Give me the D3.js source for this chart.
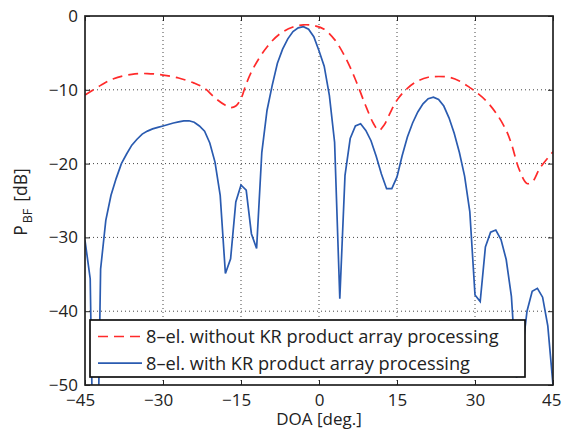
<!DOCTYPE html>
<html>
<head>
<meta charset="utf-8">
<script src="https://cdn.jsdelivr.net/npm/d3@7"></script>
<style>
  html, body { margin: 0; padding: 0; background: #fff; }
  svg { display: block; font-family: "Open Sans", "Noto Sans", sans-serif; }
  .grid line { stroke: #444; stroke-width: 1; stroke-dasharray: 1 3; }
</style>
</head>
<body>
<svg id="chart" width="562" height="431"></svg>
<script>
  // DOA in degrees, beamformer power in dB
  const xTicks = [-45, -30, -15, 0, 15, 30, 45];
  const yTicks = [0, -10, -20, -30, -40, -50];

  const withoutKR = [
    [-45, -10.7], [-42, -9.4], [-39.5, -8.5], [-36, -7.9], [-33, -7.8], [-30, -8.0],
    [-27, -8.4], [-24, -9.1], [-22, -9.8], [-20, -11.1], [-18, -12.1], [-17, -12.4],
    [-16, -12.2], [-15, -11.2], [-14, -9.2], [-12.5, -6.9], [-10, -4.2], [-7.5, -2.4],
    [-5, -1.5], [-3, -1.2], [-1, -1.3], [1, -1.8], [3, -3.2], [5, -5.5], [7, -8.6],
    [9, -12.2], [10.5, -14.6], [11.5, -15.5], [12.5, -14.8], [13.5, -13.4], [15, -11.4],
    [17, -9.8], [19, -8.8], [21, -8.3], [23, -8.2], [25, -8.3], [27, -8.8], [29, -9.7],
    [30, -10.2], [32, -11.4], [34, -13.1], [36, -15.5], [37, -17.3], [38.5, -20.8],
    [40, -22.7], [41, -22.5], [42.5, -20.6], [45, -18.4]
  ];

  const withKR = [
    [-45, -30.4], [-44, -35.6], [-43, -80], [-42, -34.3], [-41, -27.7], [-40, -24.3],
    [-39, -22.0], [-38, -20.0], [-37, -18.7], [-36, -17.5], [-35, -16.7], [-34, -16.0],
    [-33, -15.6], [-32, -15.3], [-31, -15.1], [-30, -14.9], [-29, -14.7], [-28, -14.5],
    [-27, -14.35], [-26, -14.2], [-25, -14.2], [-24, -14.4], [-23, -14.9], [-22, -15.6],
    [-21, -17.2], [-20, -19.8], [-19, -24.3], [-18, -34.9], [-17, -32.9], [-16, -25.2],
    [-15, -22.9], [-14, -23.6], [-13, -29.5], [-12, -31.5], [-11, -18.5], [-10, -12.8],
    [-9, -9.4], [-8, -6.4], [-7, -4.5], [-6, -3.1], [-5, -2.1], [-4, -1.6], [-3, -1.45],
    [-2, -1.8], [-1, -2.8], [0, -4.7], [1, -6.8], [2, -10.8], [3, -17.1], [4, -38.3],
    [5, -21.6], [6, -16.6], [7, -14.9], [8, -14.6], [9, -15.5], [10, -16.9], [11, -19.0],
    [12, -21.4], [13, -23.4], [14, -23.4], [15, -21.8], [16, -18.9], [17, -16.4],
    [18, -14.5], [19, -13.0], [20, -11.9], [21, -11.2], [22, -11.0], [23, -11.3],
    [24, -12.2], [25, -13.8], [26, -15.9], [27, -18.5], [28, -21.7], [29, -26.5],
    [30, -37.8], [31, -38.7], [32, -31.3], [33, -29.3], [34, -29.0], [35, -30.3],
    [36, -33.0], [37, -38.0], [38, -49], [39, -46], [40, -40.0], [41, -37.3],
    [42, -36.9], [43, -38.1], [44, -42.0], [45, -50]
  ];

  const legendLabels = [
    "8\u2013el. without KR product array processing",
    "8\u2013el. with KR product array processing"
  ];

  const mLeft = 85, mRight = 553, mTop = 16, mBottom = 385;
  const red = "#ff2a2a", blue = "#2a5bb0";

  const svg = d3.select("#chart");
  const x = d3.scaleLinear().domain([-45, 45]).range([mLeft, mRight]);
  const y = d3.scaleLinear().domain([-50, 0]).range([mBottom, mTop]);

  svg.append("defs").append("clipPath").attr("id", "plot")
    .append("rect").attr("x", mLeft).attr("y", mTop)
    .attr("width", mRight - mLeft).attr("height", mBottom - mTop);

  // dotted grid
  const grid = svg.append("g").attr("class", "grid");
  grid.selectAll(".gx").data(xTicks.slice(1, -1)).join("line")
    .attr("x1", d => x(d)).attr("x2", d => x(d)).attr("y1", mTop).attr("y2", mBottom);
  grid.selectAll(".gy").data(yTicks.slice(1, -1)).join("line")
    .attr("y1", d => y(d)).attr("y2", d => y(d)).attr("x1", mLeft).attr("x2", mRight);

  const plot = svg.append("g").attr("clip-path", "url(#plot)");
  plot.append("path").datum(withoutKR)
    .attr("fill", "none").attr("stroke", red).attr("stroke-width", 1.7)
    .attr("stroke-dasharray", "10 6")
    .attr("d", d3.line().x(d => x(d[0])).y(d => y(d[1])).curve(d3.curveCatmullRom));
  plot.append("path").datum(withKR)
    .attr("fill", "none").attr("stroke", blue).attr("stroke-width", 1.7)
    .attr("d", d3.line().x(d => x(d[0])).y(d => y(d[1])));

  // axes with inward ticks on all four sides
  const axisFont = g => g.selectAll("text")
    .attr("font-size", 17).attr("fill", "#222")
    .attr("font-family", "'Open Sans', 'Noto Sans', sans-serif");

  const xb = svg.append("g").attr("transform", `translate(0,${mBottom})`)
    .call(d3.axisBottom(x).tickValues(xTicks).tickSizeInner(-5).tickSizeOuter(0)
      .tickPadding(9).tickFormat(d => (d < 0 ? "\u2212" : "") + Math.abs(d)));
  xb.call(axisFont);
  xb.selectAll(".tick text").each(function (d) {
    // centre the digits on the tick; the minus sign hangs to the left
    const t = d3.select(this);
    t.text(String(Math.abs(d)));
    const digits = this.getComputedTextLength();
    t.text((d < 0 ? "\u2212" : "") + Math.abs(d));
    // keep the last label inside the picture
    const room = 561 - x(d);
    t.attr("text-anchor", "end").attr("x", Math.min(digits / 2, room));
  });

  svg.append("g").attr("transform", `translate(0,${mTop})`)
    .call(d3.axisTop(x).tickValues(xTicks).tickSizeInner(-5).tickSizeOuter(0).tickFormat(""));

  const yl = svg.append("g").attr("transform", `translate(${mLeft},0)`)
    .call(d3.axisLeft(y).tickValues(yTicks).tickSizeInner(-5).tickSizeOuter(0)
      .tickPadding(7).tickFormat(d => (d < 0 ? "\u2212" : "") + Math.abs(d)));
  yl.call(axisFont);

  svg.append("g").attr("transform", `translate(${mRight},0)`)
    .call(d3.axisRight(y).tickValues(yTicks).tickSizeInner(-5).tickSizeOuter(0).tickFormat(""));

  svg.selectAll(".domain").remove();
  svg.selectAll(".tick line").attr("stroke", "#222").attr("stroke-width", 1);

  svg.append("rect").attr("x", mLeft).attr("y", mTop)
    .attr("width", mRight - mLeft).attr("height", mBottom - mTop)
    .attr("fill", "none").attr("stroke", "#222").attr("stroke-width", 1.7);

  // axis titles
  svg.append("text").attr("x", (mLeft + mRight) / 2).attr("y", 425)
    .attr("text-anchor", "middle").attr("font-size", 17).attr("fill", "#222")
    .text("DOA [deg.]");

  const yt = svg.append("text")
    .attr("transform", "translate(27,202) rotate(-90)")
    .attr("text-anchor", "middle").attr("font-size", 17.5).attr("fill", "#222");
  yt.append("tspan").text("P");
  yt.append("tspan").attr("font-size", 12.5).attr("dy", 5).attr("dx", 2).text("BF");
  yt.append("tspan").attr("dy", -5).attr("dx", 7).text("[dB]");

  // legend
  const lg = svg.append("g");
  lg.append("rect").attr("x", 90).attr("y", 320).attr("width", 435).attr("height", 57)
    .attr("fill", "#fff").attr("stroke", "#111").attr("stroke-width", 1.7);
  const items = [
    { label: legendLabels[0], color: red, dash: "10 6" },
    { label: legendLabels[1], color: blue, dash: null }
  ];
  const row = lg.selectAll("g.item").data(items).join("g")
    .attr("transform", (d, i) => `translate(0,${336.5 + i * 26.7})`);
  row.append("line").attr("x1", 98).attr("x2", 142)
    .attr("stroke", d => d.color).attr("stroke-width", 1.7)
    .attr("stroke-dasharray", d => d.dash);
  row.append("text").attr("x", 146).attr("dy", "0.35em")
    .attr("font-size", 18.2).attr("fill", "#222").text(d => d.label);
</script>
</body>
</html>
